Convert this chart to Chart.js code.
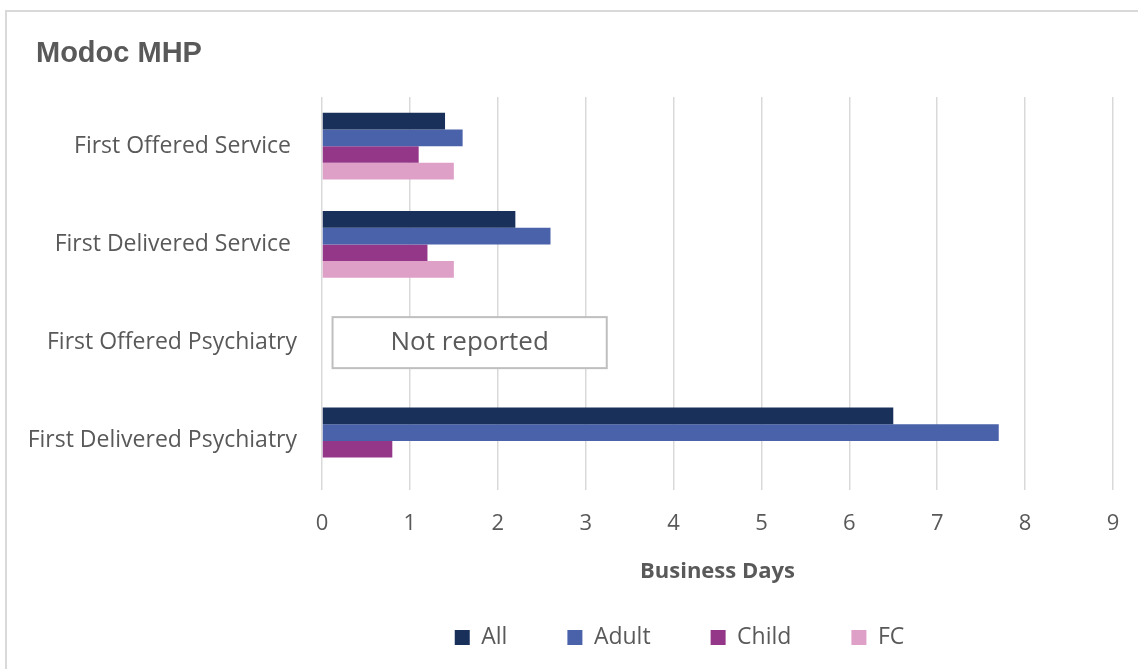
<!DOCTYPE html>
<html>
<head>
<meta charset="utf-8">
<script src="https://cdn.jsdelivr.net/npm/chart.js@4"></script>
<style>
  html, body { margin: 0; padding: 0; background: #fff; }
  #wrap { position: relative; width: 1138px; height: 669px; overflow: hidden; }
  #frame { position: absolute; left: 5px; top: 10px; width: 1200px; height: 800px;
           border-left: 2px solid #d9d9d9; border-top: 2px solid #d9d9d9; }
  #title { position: absolute; left: 36px; top: 34px; font: bold 29px "Liberation Sans", Arial, sans-serif;
           color: #595959; line-height: 36px; }
  #c { position: absolute; left: 0; top: 0; }
</style>
</head>
<body>
<div id="wrap">
  <div id="frame"></div>
  <canvas id="c" width="1138" height="669"></canvas>
  <div id="title">Modoc MHP</div>
</div>
<script>
const categories = ["First Offered Service ", "First Delivered Service ", "First Offered Psychiatry", "First Delivered Psychiatry"];
const seriesNames = ["All", "Adult", "Child", "FC"];
const allValues   = [1.4, 2.2, null, 6.5];
const adultValues = [1.6, 2.6, null, 7.7];
const childValues = [1.1, 1.2, null, 0.8];
const fcValues    = [1.5, 1.5, null, null];
const xTicks = [0, 1, 2, 3, 4, 5, 6, 7, 8, 9];
const notReportedCategory = "First Offered Psychiatry";
const notReportedText = "Not reported";

const colors = ["#18305a", "#4962aa", "#953789", "#dfa0c8"];
const FONT = '"Open Sans", "Noto Sans", sans-serif';
const GREY = "#595959";

const notReportedPlugin = {
  id: "notReported",
  afterDatasetsDraw(chart) {
    const {ctx, scales: {x, y}} = chart;
    const idx = categories.indexOf(notReportedCategory);
    const cy = y.getPixelForValue(idx);
    const x0 = x.getPixelForValue(0.12), x1 = x.getPixelForValue(3.24);
    const h = 51;
    ctx.save();
    ctx.fillStyle = "#ffffff";
    ctx.fillRect(x0, cy - h / 2, x1 - x0, h);
    ctx.strokeStyle = "#bfbfbf";
    ctx.lineWidth = 2;
    ctx.strokeRect(x0, cy - h / 2, x1 - x0, h);
    ctx.fillStyle = GREY;
    ctx.font = "26px " + FONT;
    ctx.textAlign = "center";
    ctx.textBaseline = "middle";
    ctx.fillText(notReportedText, (x0 + x1) / 2, cy);
    ctx.restore();
  }
};

// shift legend block so it sits under the plot like the reference
const legendShift = {
  id: "legendShift",
  afterLayout(chart) {
    if (chart.legend) {
      chart.legend.left += 246;
    }
  }
};

const dataArrays = [allValues, adultValues, childValues, fcValues];
new Chart(document.getElementById("c"), {
  type: "bar",
  data: {
    labels: categories,
    datasets: seriesNames.map((n, i) => ({
      label: n,
      data: dataArrays[i],
      backgroundColor: colors[i],
      borderWidth: 0,
      categoryPercentage: 0.68,
      barPercentage: 1.0
    }))
  },
  options: {
    indexAxis: "y",
    responsive: false,
    animation: false,
    devicePixelRatio: 1,
    layout: { padding: { top: 97, right: 25, bottom: 10, left: 0 } },
    scales: {
      x: {
        min: 0, max: 9,
        afterBuildTicks(s) { s.ticks = xTicks.map(v => ({ value: v })); },
        grid: { color: "#d9d9d9", lineWidth: 1.5, drawTicks: false },
        border: { display: false },
        ticks: { color: GREY, font: { family: FONT, size: 22 }, padding: 21 },
        title: { display: true, text: "Business Days", color: GREY,
                 font: { family: FONT, size: 22, weight: "bold" }, padding: { top: 0, bottom: -19 } },
        afterFit(s) { s.height = 76; s.paddingRight = 0; s.paddingLeft = 0; }
      },
      y: {
        grid: { display: false, drawTicks: false },
        border: { display: false },
        ticks: { color: GREY, font: { family: FONT, size: 23 }, padding: 25 },
        afterFit(s) { s.width = 322; }
      }
    },
    plugins: {
      legend: {
        position: "bottom",
        labels: { color: GREY, font: { family: FONT, size: 23 }, boxWidth: 15, boxHeight: 15, padding: 60 }
      },
      tooltip: { enabled: false }
    }
  },
  plugins: [notReportedPlugin, legendShift]
});
</script>
</body>
</html>
